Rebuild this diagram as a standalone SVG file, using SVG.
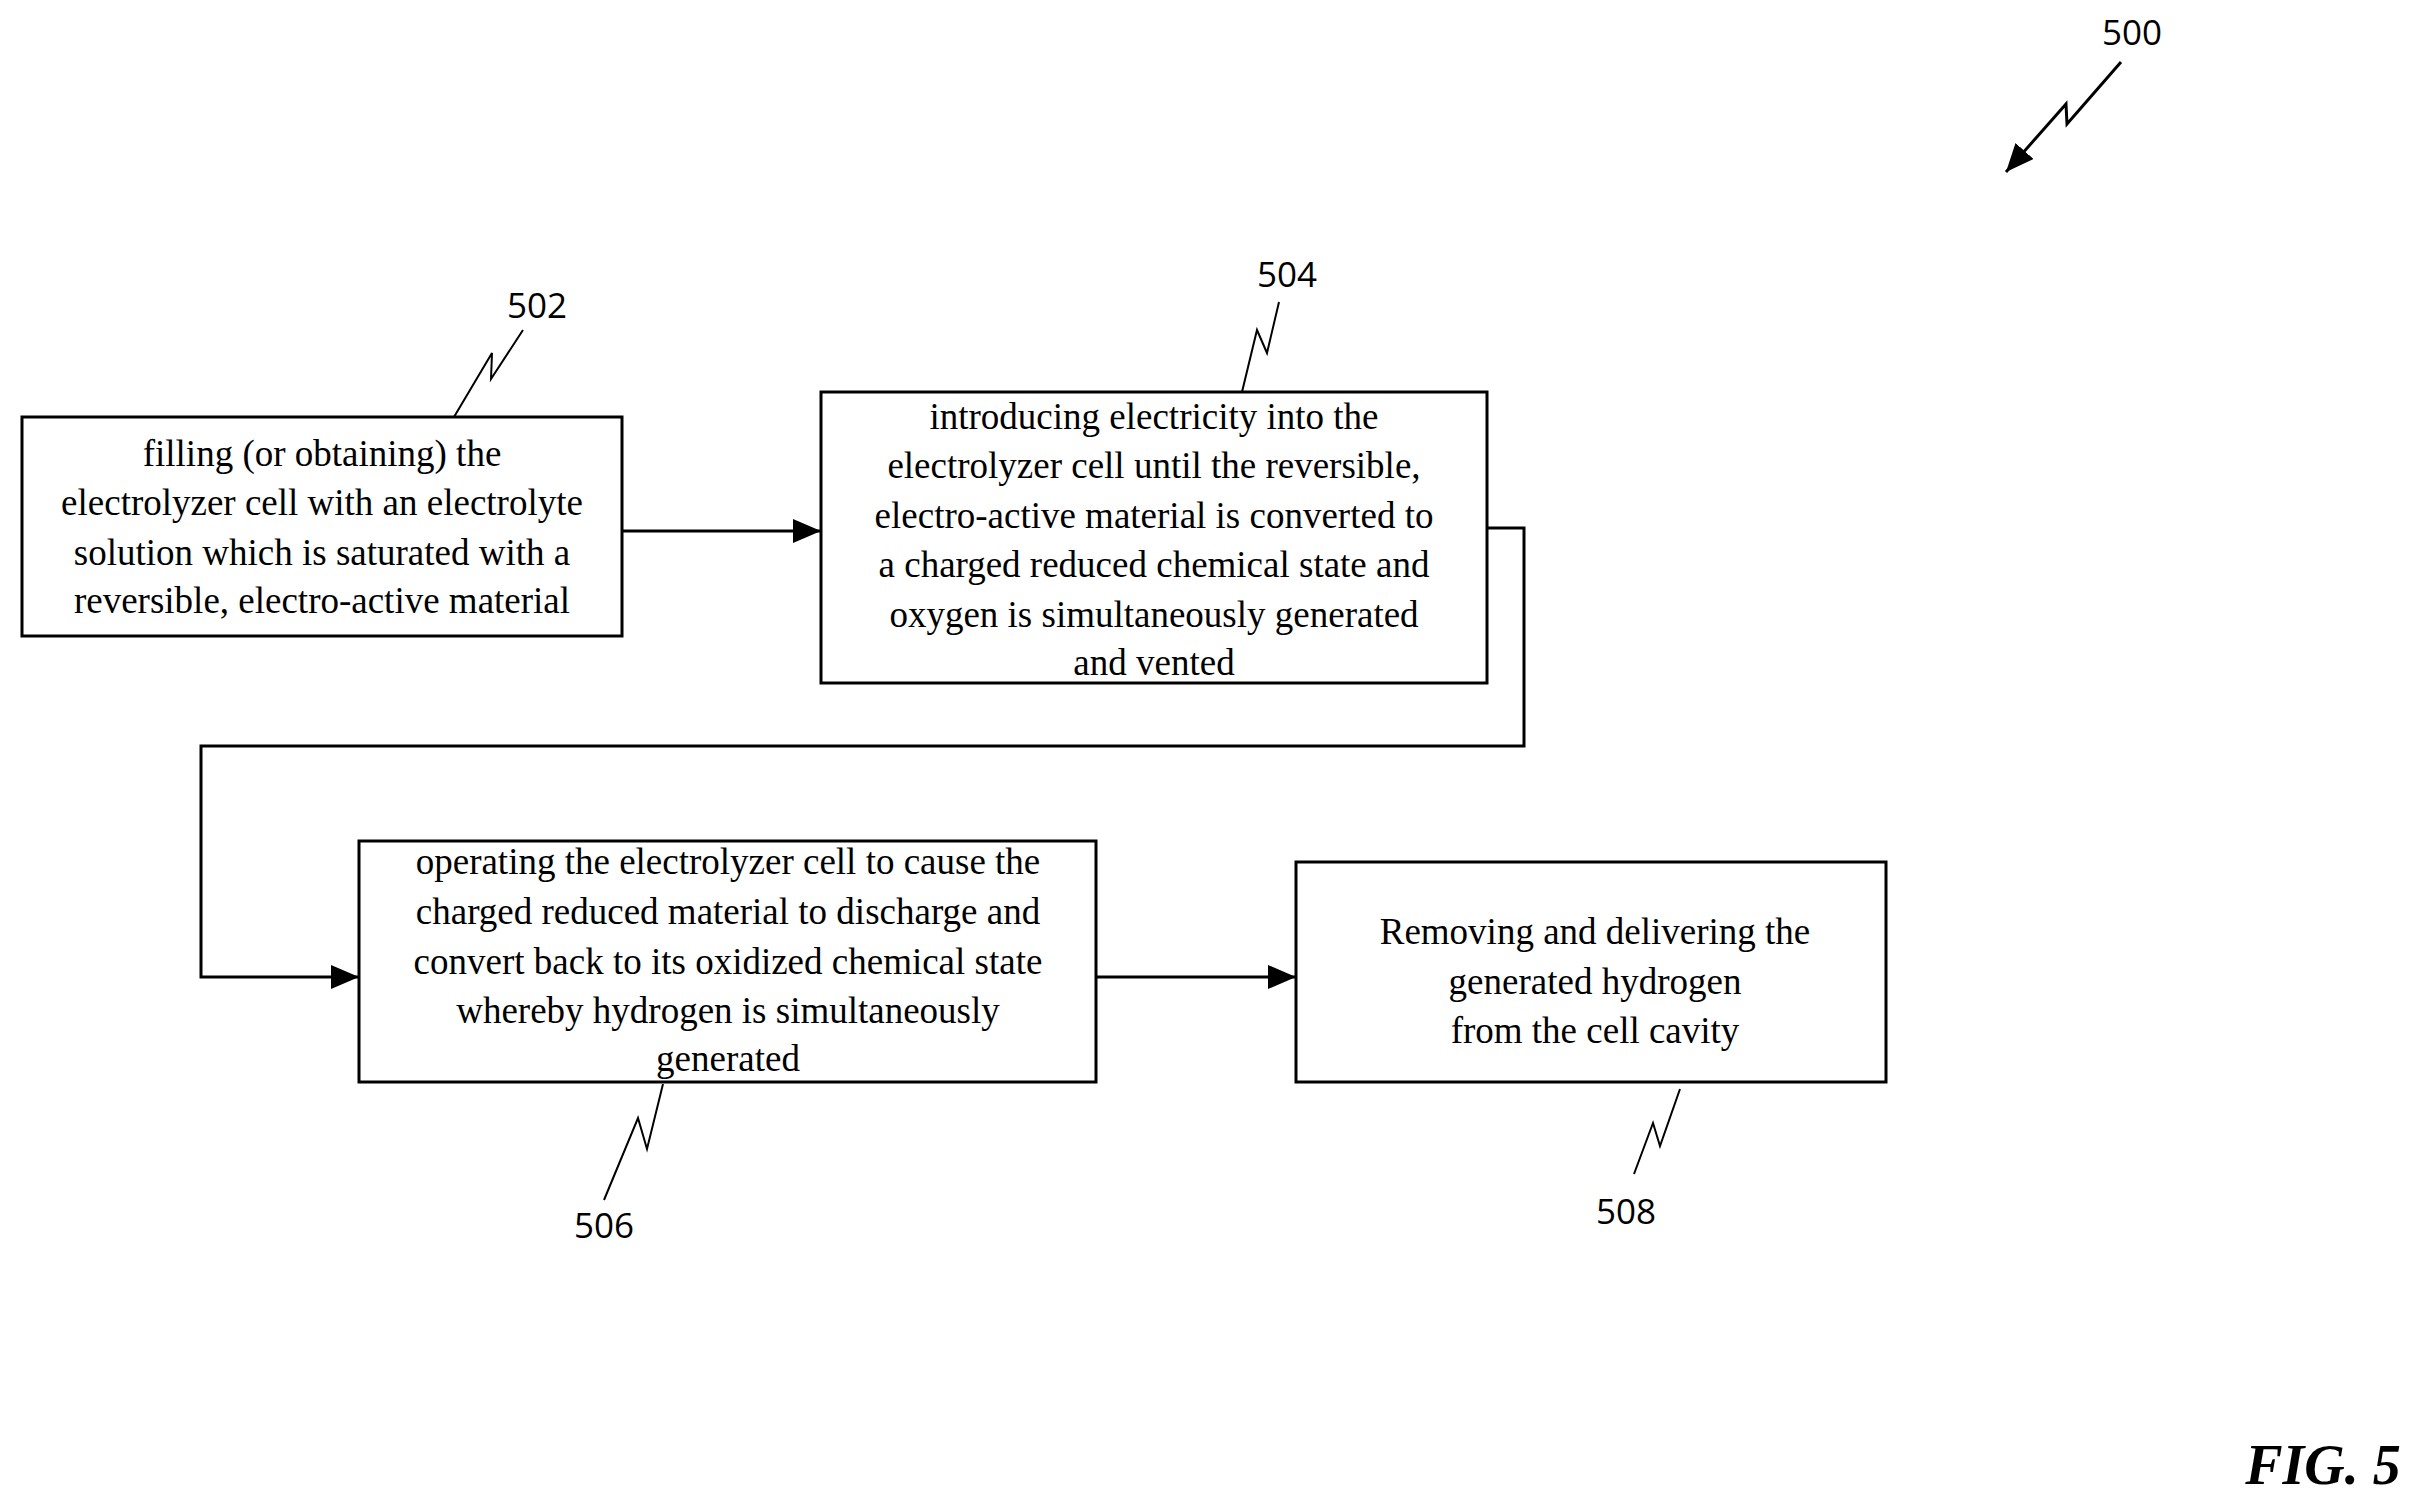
<svg xmlns="http://www.w3.org/2000/svg" width="2428" height="1512" viewBox="0 0 2428 1512">
<style>
.box{fill:#fff;stroke:#000;stroke-width:3}
.t{font-family:"Liberation Serif",serif;font-size:37px;text-anchor:middle;fill:#000}
.n{font-family:"Open Sans","Liberation Sans",sans-serif;font-size:35px;text-anchor:middle;fill:#000}
.c{fill:none;stroke:#000;stroke-width:3}
.l{fill:none;stroke:#000;stroke-width:2}
</style>
<defs><marker id="a" markerWidth="10" markerHeight="10" refX="9" refY="5" orient="auto" markerUnits="userSpaceOnUse" viewBox="0 0 10 10"><path d="M0 0L10 5L0 10Z" fill="#000"/></marker>
<marker id="b" markerWidth="28" markerHeight="24" refX="28" refY="12" orient="auto" markerUnits="userSpaceOnUse"><path d="M0 0L28 12L0 24Z" fill="#000"/></marker></defs>
<g id="connectors">
<path class="c" d="M622 531H821" marker-end="url(#b)"/>
<path class="c" d="M1487 528H1524V746H201V977H359" marker-end="url(#b)"/>
<path class="c" d="M1096 977H1296" marker-end="url(#b)"/>
</g>
<g id="n502"><rect class="box" x="22" y="417" width="600" height="219"/>
<text class="t" x="322" y="466">filling (or obtaining) the</text>
<text class="t" x="322" y="515">electrolyzer cell with an electrolyte</text>
<text class="t" x="322" y="565">solution which is saturated with a</text>
<text class="t" x="322" y="613">reversible, electro-active material</text></g>
<g id="n504"><rect class="box" x="821" y="392" width="666" height="291"/>
<text class="t" x="1154" y="429">introducing electricity into the</text>
<text class="t" x="1154" y="478">electrolyzer cell until the reversible,</text>
<text class="t" x="1154" y="528">electro-active material is converted to</text>
<text class="t" x="1154" y="577">a charged reduced chemical state and</text>
<text class="t" x="1154" y="627">oxygen is simultaneously generated</text>
<text class="t" x="1154" y="675">and vented</text></g>
<g id="n506"><rect class="box" x="359" y="841" width="737" height="241"/>
<text class="t" x="728" y="874">operating the electrolyzer cell to cause  the</text>
<text class="t" x="728" y="924">charged reduced material to discharge and</text>
<text class="t" x="728" y="974">convert back to its oxidized chemical state</text>
<text class="t" x="728" y="1023">whereby hydrogen is simultaneously</text>
<text class="t" x="728" y="1071">generated</text></g>
<g id="n508"><rect class="box" x="1296" y="862" width="590" height="220"/>
<text class="t" x="1595" y="944">Removing and delivering the</text>
<text class="t" x="1595" y="994">generated hydrogen</text>
<text class="t" x="1595" y="1043">from the cell cavity</text></g>
<g id="labels">
<path class="l" d="M454 417L492 353L491 379L523 330"/><text class="n" x="537" y="318">502</text>
<path class="l" d="M1242 392L1257 330L1267 353L1279 302"/><text class="n" x="1287" y="287">504</text>
<path class="l" d="M663 1084L647 1149L638 1118L604 1200"/><text class="n" x="604" y="1238">506</text>
<path class="l" d="M1680 1089L1660 1146L1653 1123L1634 1174"/><text class="n" x="1626" y="1224">508</text>
<path class="c" d="M2121 62L2067 124L2066 104L2006 172" marker-end="url(#b)"/><text class="n" x="2132" y="45">500</text>
<text x="2323" y="1484" style="font-family:'Liberation Serif',serif;font-size:56px;font-weight:bold;font-style:italic;text-anchor:middle">FIG. 5</text>
</g>
</svg>
